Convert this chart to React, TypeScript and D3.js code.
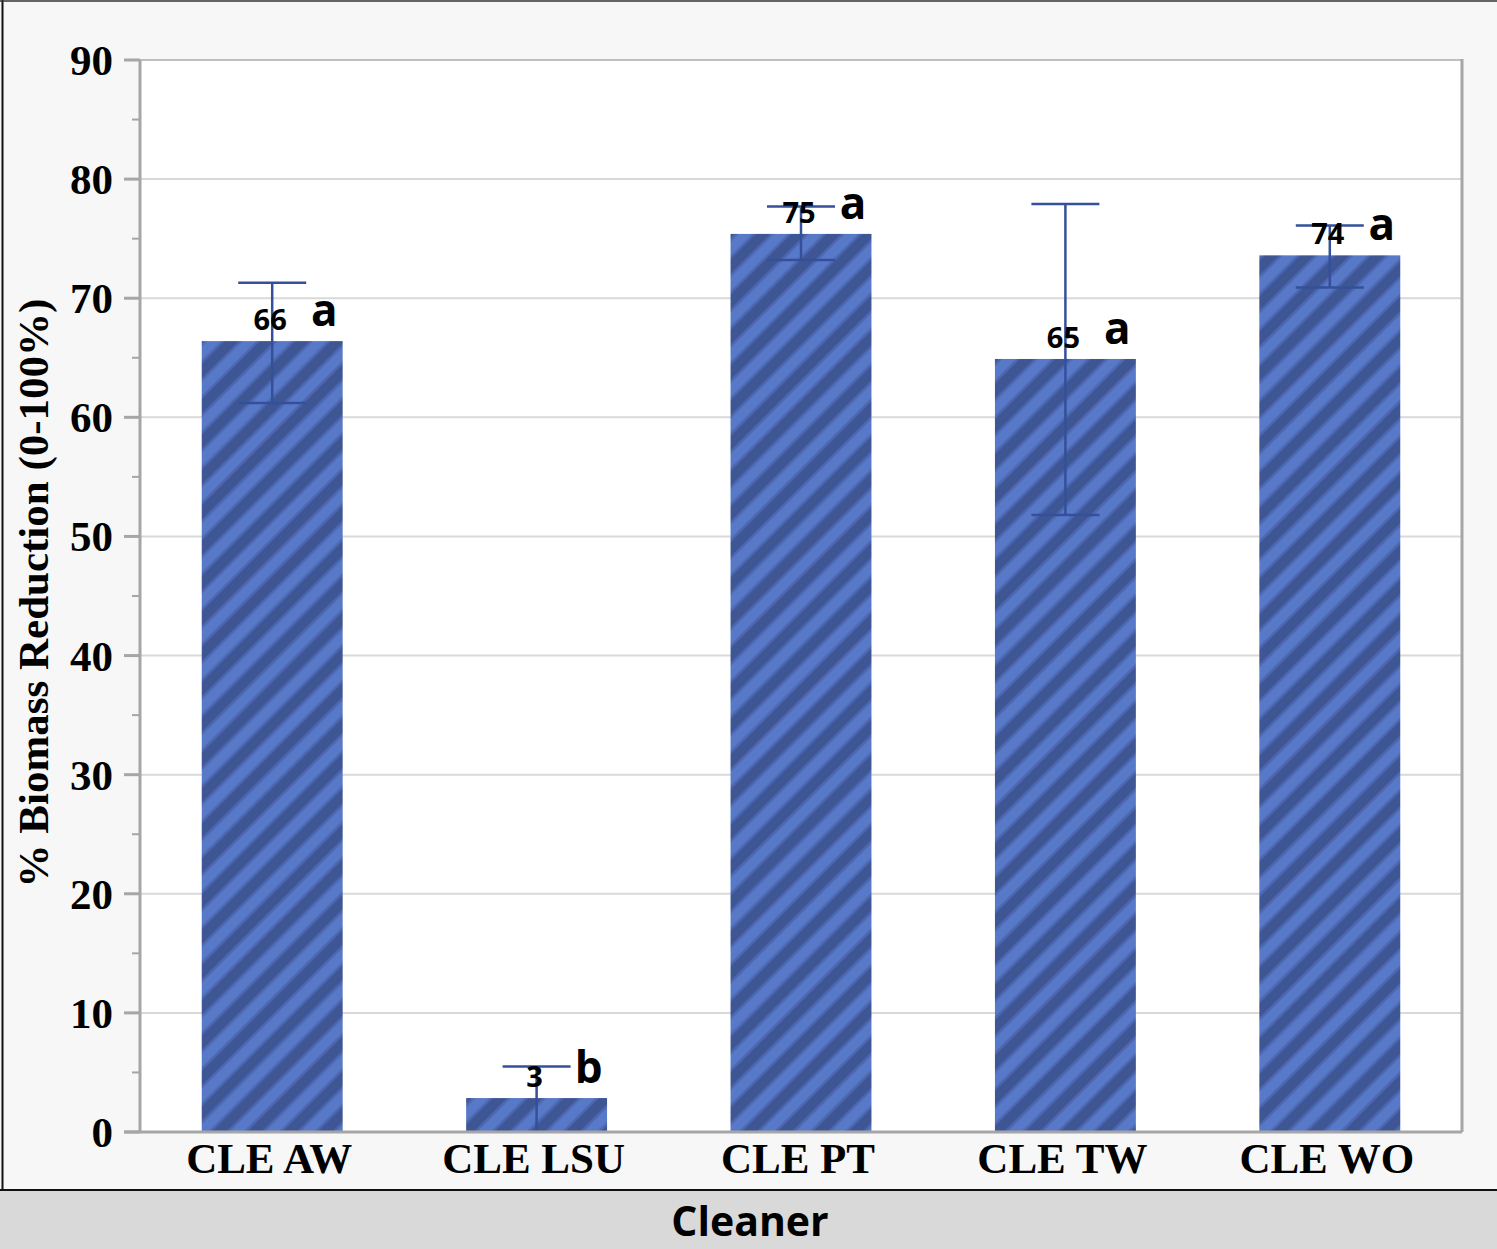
import React from "react";
import * as d3 from "d3";

// values
const cleaners = ["CLE AW", "CLE LSU", "CLE PT", "CLE TW", "CLE WO"];
const means = [66.4, 2.85, 75.4, 64.9, 73.6];
const errHigh = [71.3, 5.5, 77.7, 77.9, 76.1];
const errLow = [61.2, 0, 73.2, 51.8, 70.9];
const groups = ["a", "b", "a", "a", "a"];
const yTicks = [0, 10, 20, 30, 40, 50, 60, 70, 80, 90];
const yMinorTicks = [5, 15, 25, 35, 45, 55, 65, 75, 85];

const W = 1497;
const H = 1249;
const plot = { left: 140, right: 1462, top: 60, bottom: 1132 };

const serif = "'Liberation Serif', 'Times New Roman', serif";
const sans = "'Open Sans', 'Noto Sans', sans-serif";

export default function App() {
  const x = d3
    .scaleBand()
    .domain(cleaners)
    .range([plot.left, plot.right])
    .paddingInner(0.467)
    .paddingOuter(0.2335);

  const y = d3.scaleLinear().domain([0, 90]).range([plot.bottom, plot.top]);

  const bw = x.bandwidth();
  const capHalf = 34;
  const barBlue = "#5878c8";
  const errColor = "#34509a";
  const axisGray = "#a6a6a6";

  return (
    <>
      <style>{`body{margin:0}`}</style>
      <svg width={W} height={H} style={{ display: "block" }}>
        <defs>
          <pattern
            id="stripes"
            patternUnits="userSpaceOnUse"
            width={25}
            height={25}
            patternTransform="rotate(45)"
          >
            <rect width={25} height={25} fill={barBlue} />
            <rect x={0} width={10} height={25} fill="#3f5694" />
            <rect x={10} width={2.5} height={25} fill="#4b66ae" />
            <rect x={22.5} width={2.5} height={25} fill="#4b66ae" />
          </pattern>
        </defs>

        {/* outer panel */}
        <rect x={0} y={0} width={W} height={1191} fill="#f7f7f7" />
        <rect x={0} y={1191} width={W} height={H - 1191} fill="#d9d9d9" />
        <line x1={2.5} x2={2.5} y1={0} y2={1190} stroke="#111" strokeWidth={2} />
        <line x1={0} x2={W} y1={1} y2={1} stroke="#333" strokeWidth={1.5} />
        <line x1={0} x2={W} y1={1190} y2={1190} stroke="#111" strokeWidth={2} />

        {/* plot area */}
        <rect
          x={plot.left}
          y={plot.top}
          width={plot.right - plot.left}
          height={plot.bottom - plot.top}
          fill="#fff"
        />
        {yTicks.map((t) => (
          <line
            key={"g" + t}
            x1={plot.left}
            x2={plot.right}
            y1={y(t)}
            y2={y(t)}
            stroke="#d9d9d9"
            strokeWidth={2}
          />
        ))}
        <line x1={plot.left} x2={plot.right} y1={plot.top} y2={plot.top} stroke="#bfbfbf" strokeWidth={2} />
        <line x1={plot.right} x2={plot.right} y1={plot.top - 1} y2={plot.bottom} stroke={axisGray} strokeWidth={3} />

        {/* bars */}
        {cleaners.map((c, i) => (
          <rect
            key={c}
            x={x(c)!}
            y={y(means[i])}
            width={bw}
            height={y(0) - y(means[i])}
            fill="url(#stripes)"
          />
        ))}

        {/* error bars */}
        {cleaners.map((c, i) => {
          const cx = x(c)! + bw / 2;
          return (
            <g key={"e" + c} stroke={errColor} strokeWidth={2.5}>
              <line x1={cx} x2={cx} y1={y(errHigh[i])} y2={y(errLow[i])} />
              <line x1={cx - capHalf} x2={cx + capHalf} y1={y(errHigh[i])} y2={y(errHigh[i])} />
              {errLow[i] > 0 && (
                <line x1={cx - capHalf} x2={cx + capHalf} y1={y(errLow[i])} y2={y(errLow[i])} />
              )}
            </g>
          );
        })}

        {/* axes */}
        <line x1={plot.left} x2={plot.left} y1={plot.top} y2={plot.bottom} stroke={axisGray} strokeWidth={3} />
        <line x1={plot.left - 16} x2={plot.right} y1={plot.bottom} y2={plot.bottom} stroke={axisGray} strokeWidth={3} />
        {yTicks.map((t) => (
          <line key={"t" + t} x1={plot.left - 16} x2={plot.left} y1={y(t)} y2={y(t)} stroke={axisGray} strokeWidth={3} />
        ))}
        {yMinorTicks.map((t) => (
          <line key={"m" + t} x1={plot.left - 8} x2={plot.left} y1={y(t)} y2={y(t)} stroke={axisGray} strokeWidth={2} />
        ))}
        {yTicks.map((t) => (
          <text
            key={"l" + t}
            x={113}
            y={y(t)}
            dy="0.35em"
            textAnchor="end"
            fontFamily={serif}
            fontWeight="bold"
            fontSize={43}
            fill="#000"
          >
            {t}
          </text>
        ))}
        {cleaners.map((c) => (
          <text
            key={"x" + c}
            x={x(c)! + bw / 2 - 3}
            y={1173}
            textAnchor="middle"
            fontFamily={serif}
            fontWeight="bold"
            fontSize={43}
            fill="#000"
          >
            {c}
          </text>
        ))}

        {/* value labels + letters */}
        {cleaners.map((c, i) => {
          const cx = x(c)! + bw / 2;
          return (
            <g key={"v" + c} fontFamily={sans} fontWeight="bold" fill="#000">
              <text x={cx - 2} y={y(means[i]) - 11} textAnchor="middle" fontSize={29}>
                {Math.round(means[i])}
              </text>
              <text x={cx + 52} y={y(means[i]) - 15} textAnchor="middle" fontSize={44}>
                {groups[i]}
              </text>
            </g>
          );
        })}

        {/* axis titles */}
        <text
          transform={`translate(48,${(plot.top + plot.bottom) / 2 - 3}) rotate(-90)`}
          textAnchor="middle"
          fontFamily={serif}
          fontWeight="bold"
          fontSize={43}
          fill="#000"
        >
          % Biomass Reduction (0-100%)
        </text>
        <text
          x={750}
          y={1236}
          textAnchor="middle"
          fontFamily={sans}
          fontWeight="bold"
          fontSize={41}
          fill="#000"
        >
          Cleaner
        </text>
      </svg>
    </>
  );
}
